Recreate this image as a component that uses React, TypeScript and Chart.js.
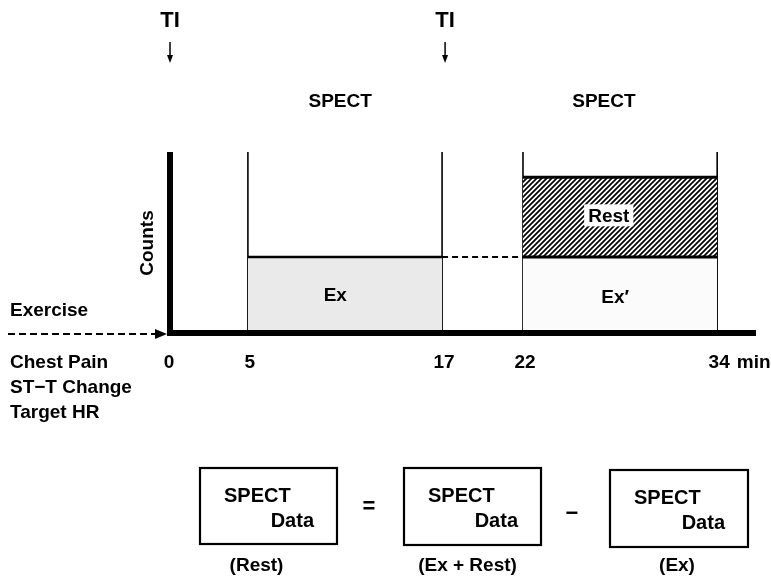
import React, { useEffect, useRef } from "react";
import { Chart, registerables } from "chart.js";

Chart.register(...registerables);

// ---- data ----
const xTicks = [0, 5, 17, 22, 34];
const xUnit = "min";
const xMax = 36.4;
const yMax = 100;
const windowLines = [5, 17, 22, 34];
const exWindow = [5, 17];
const restWindow = [22, 34];
const exCounts = 42;
const exPlusRestCounts = 86;
const tiTimes = [0, 17];
const tiLabel = "TI";
const spectLabel = "SPECT";
const spectLabelAt = [10.7, 27];
const yTitle = "Counts";
const exerciseLabel = "Exercise";
const sideLabels = ["Chest Pain", "ST−T Change", "Target HR"];
const regionLabelText = ["Ex", "Ex′", "Rest"];
const regionLabelX = [10.4, 27.7, 27.3];
const regionLabelY = [21, 20, 65];
const boxTopText = "SPECT";
const boxBottomText = "Data";
const boxCaptions = ["(Rest)", "(Ex + Rest)", "(Ex)"];
const equationOps = ["=", "−"];

const FONT = '"Liberation Sans", Arial, Helvetica, sans-serif';

function makeHatch(): CanvasPattern | string {
  const c = document.createElement("canvas");
  c.width = 5;
  c.height = 5;
  const g = c.getContext("2d");
  if (!g) return "#555";
  g.fillStyle = "#ffffff";
  g.fillRect(0, 0, 5, 5);
  g.strokeStyle = "#000";
  g.lineWidth = 1.7;
  g.beginPath();
  g.moveTo(-1, 6);
  g.lineTo(6, -1);
  g.moveTo(-3, 3);
  g.lineTo(3, -3);
  g.moveTo(2, 8);
  g.lineTo(8, 2);
  g.stroke();
  const p = g.createPattern(c, "repeat");
  return p || "#555";
}

const decorPlugin = {
  id: "decor",
  afterDatasetsDraw(chart: any) {
    const ctx: CanvasRenderingContext2D = chart.ctx;
    const xs = chart.scales.x;
    const ys = chart.scales.y;
    const X = (v: number) => xs.getPixelForValue(v);
    const Y = (v: number) => ys.getPixelForValue(v);
    const area = chart.chartArea;
    ctx.save();
    ctx.fillStyle = "#000";
    ctx.strokeStyle = "#000";

    // axes
    ctx.lineWidth = 6;
    ctx.lineCap = "butt";
    ctx.beginPath();
    ctx.moveTo(X(0) + 3, Y(yMax));
    ctx.lineTo(X(0) + 3, Y(0) + 3);
    ctx.stroke();
    ctx.beginPath();
    ctx.moveTo(X(0), Y(0));
    ctx.lineTo(area.right, Y(0));
    ctx.stroke();

    // exercise dashed arrow
    ctx.lineWidth = 2;
    ctx.setLineDash([7, 4]);
    ctx.beginPath();
    ctx.moveTo(8, Y(0) + 1);
    ctx.lineTo(157, Y(0) + 1);
    ctx.stroke();
    ctx.setLineDash([]);
    ctx.beginPath();
    ctx.moveTo(167, Y(0) + 1);
    ctx.lineTo(155, Y(0) - 4);
    ctx.lineTo(155, Y(0) + 6);
    ctx.closePath();
    ctx.fill();

    // tick labels
    ctx.font = `bold 19px ${FONT}`;
    ctx.textBaseline = "alphabetic";
    ctx.textAlign = "center";
    xTicks.forEach((t) => {
      ctx.fillText(String(t), X(t) + 2, 368);
    });
    ctx.textAlign = "left";
    const last = xTicks[xTicks.length - 1];
    const lw = ctx.measureText(String(last)).width;
    ctx.fillText(xUnit, X(last) + 2 + lw / 2 + 7, 368);

    // left labels
    ctx.fillText(exerciseLabel, 10, 316);
    sideLabels.forEach((s, i) => ctx.fillText(s, 10, 368 + i * 25));

    // Counts title
    ctx.save();
    ctx.translate(153, 243);
    ctx.rotate(-Math.PI / 2);
    ctx.textAlign = "center";
    ctx.fillText(yTitle, 0, 0);
    ctx.restore();

    // TI markers
    tiTimes.forEach((t) => {
      const px = X(t) + 3;
      ctx.font = `bold 22px "Liberation Sans Narrow", ${FONT}`;
      ctx.textAlign = "center";
      ctx.fillText(tiLabel, px, 27);
      ctx.lineWidth = 1.5;
      ctx.beginPath();
      ctx.moveTo(px, 42);
      ctx.lineTo(px, 58);
      ctx.stroke();
      ctx.beginPath();
      ctx.moveTo(px, 63);
      ctx.lineTo(px - 3, 55);
      ctx.lineTo(px + 3, 55);
      ctx.closePath();
      ctx.fill();
    });

    // SPECT labels
    ctx.font = `bold 19px ${FONT}`;
    ctx.textAlign = "center";
    spectLabelAt.forEach((v) => ctx.fillText(spectLabel, X(v), 107));

    // region labels
    regionLabelText.forEach((t, i) => {
      const px = X(regionLabelX[i]);
      const py = Y(regionLabelY[i]);
      ctx.font = `bold 19px ${FONT}`;
      if (t === "Rest") {
        const w = ctx.measureText(t).width;
        ctx.fillStyle = "#fff";
        ctx.fillRect(px - w / 2 - 4, py - 11, w + 8, 22);
        ctx.fillStyle = "#000";
      }
      ctx.textBaseline = "middle";
      ctx.fillText(t, px, py + 1);
      ctx.textBaseline = "alphabetic";
    });

    // equation boxes
    const boxes = [
      { x: 200, y: 468, w: 137, h: 76, cap: -12 },
      { x: 404, y: 468, w: 137, h: 77, cap: -5 },
      { x: 610, y: 470, w: 138, h: 77, cap: -2 },
    ];
    ctx.lineWidth = 2.2;
    boxes.forEach((b, i) => {
      ctx.strokeRect(b.x, b.y, b.w, b.h);
      ctx.font = `bold 20px ${FONT}`;
      ctx.textAlign = "left";
      ctx.fillText(boxTopText, b.x + 24, b.y + 34);
      ctx.textAlign = "right";
      ctx.fillText(boxBottomText, b.x + b.w - 23, b.y + 59);
      ctx.textAlign = "center";
      ctx.font = `bold 19px ${FONT}`;
      ctx.fillText(boxCaptions[i], b.x + b.w / 2 + b.cap, 571);
    });
    ctx.font = `bold 22px ${FONT}`;
    ctx.textAlign = "center";
    ctx.textBaseline = "middle";
    ctx.fillText(equationOps[0], 369, 507);
    ctx.fillText(equationOps[1], 572, 514);
    ctx.restore();
  },
};

export default function App() {
  const ref = useRef<HTMLCanvasElement | null>(null);
  useEffect(() => {
    document.body.style.margin = "0";
    const canvas = ref.current;
    if (!canvas) return;
    const hatch = makeHatch();
    const base = { pointRadius: 0, borderColor: "#000", tension: 0 };
    const datasets: any[] = [
      {
        ...base,
        data: [
          { x: exWindow[0], y: exCounts },
          { x: exWindow[1], y: exCounts },
        ],
        fill: "origin",
        backgroundColor: "#eaeaea",
        borderWidth: 2.5,
      },
      {
        ...base,
        data: [
          { x: restWindow[0], y: exCounts },
          { x: restWindow[1], y: exCounts },
        ],
        fill: "origin",
        backgroundColor: "#fbfbfb",
        borderWidth: 3,
      },
      {
        ...base,
        data: [
          { x: restWindow[0], y: exPlusRestCounts },
          { x: restWindow[1], y: exPlusRestCounts },
        ],
        fill: { value: exCounts },
        backgroundColor: hatch,
        borderWidth: 3,
      },
      {
        ...base,
        data: [
          { x: exWindow[1], y: exCounts },
          { x: restWindow[0], y: exCounts },
        ],
        fill: false,
        borderDash: [6, 4],
        borderWidth: 2,
      },
      ...windowLines.map((v) => ({
        ...base,
        data: [
          { x: v, y: 0 },
          { x: v, y: yMax },
        ],
        fill: false,
        borderWidth: 1.6,
      })),
    ];
    const chart = new Chart(canvas, {
      type: "line",
      data: { datasets },
      options: {
        animation: false,
        responsive: false,
        devicePixelRatio: 1,
        layout: { padding: { left: 167, right: 15, top: 152, bottom: 245 } },
        scales: {
          x: { type: "linear", min: 0, max: xMax, display: false },
          y: { type: "linear", min: 0, max: yMax, display: false },
        },
        plugins: { legend: { display: false }, tooltip: { enabled: false } },
      },
      plugins: [decorPlugin],
    });
    return () => chart.destroy();
  }, []);
  return (
    <div style={{ width: 771, height: 578, background: "#fff" }}>
      <canvas ref={ref} width={771} height={578} style={{ display: "block" }} />
    </div>
  );
}
